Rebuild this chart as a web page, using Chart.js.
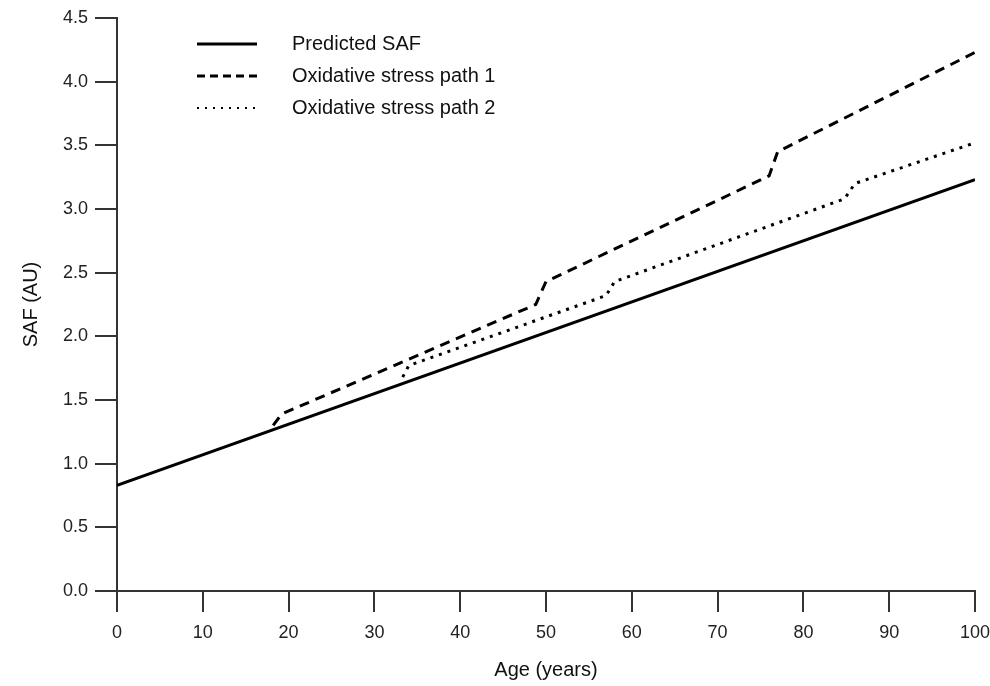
<!DOCTYPE html>
<html>
<head>
<meta charset="utf-8">
<script src="https://cdn.jsdelivr.net/npm/chart.js@4/dist/chart.umd.min.js"></script>
<style>
  html, body { margin: 0; padding: 0; background: #fff; }
  #wrap { width: 990px; height: 686px; }
</style>
</head>
<body>
<div id="wrap"><canvas id="lineChart"></canvas></div>
<script>
// values
const predictedAge = [0, 100];
const predictedSaf = [0.83, 3.23];

const path1Age = [18.2, 19.2, 48.8, 50.0, 76.0, 77.0, 100];
const path1Saf = [1.30, 1.39, 2.25, 2.43, 3.26, 3.45, 4.23];

const path2Age = [33.3, 34.0, 57.0, 58.0, 84.8, 86.0, 100];
const path2Saf = [1.68, 1.77, 2.32, 2.43, 3.08, 3.20, 3.52];

const seriesNames = ['Predicted SAF', 'Oxidative stress path 1', 'Oxidative stress path 2'];
const xTicks = [0, 10, 20, 30, 40, 50, 60, 70, 80, 90, 100];
const yTicks = [0, 0.5, 1, 1.5, 2, 2.5, 3, 3.5, 4, 4.5];

const toPoints = (xs, ys) => xs.map((x, i) => ({ x: x, y: ys[i] }));
const font = 'Liberation Sans, Arial, sans-serif';
const dashes = [[], [10, 7], [3, 6]];

// legend drawn by hand so it sits where the original one does
const legendPlugin = {
    id: 'legendLines',
    afterDraw(chart) {
        const c = chart.ctx;
        c.save();
        seriesNames.forEach((name, i) => {
            const y = 44 + i * 32;
            c.beginPath();
            c.setLineDash(i === 1 ? [8, 5] : (i === 2 ? [2, 6] : []));
            c.lineWidth = i === 2 ? 2 : 3;
            c.strokeStyle = '#000';
            c.moveTo(197, y);
            c.lineTo(257, y);
            c.stroke();
            c.setLineDash([]);
            c.fillStyle = '#111';
            c.font = '20px ' + font;
            c.textBaseline = 'middle';
            c.fillText(name, 292, y);
        });
        c.restore();
    }
};

const ctx = document.getElementById('lineChart');
new Chart(ctx, {
    type: 'line',
    data: {
        datasets: [
            { label: seriesNames[0], data: toPoints(predictedAge, predictedSaf) },
            { label: seriesNames[1], data: toPoints(path1Age, path1Saf) },
            { label: seriesNames[2], data: toPoints(path2Age, path2Saf) }
        ].map((d, i) => Object.assign(d, {
            borderColor: '#000',
            borderWidth: 3,
            borderDash: dashes[i],
            pointRadius: 0,
            fill: false,
            tension: 0
        }))
    },
    options: {
        responsive: true,
        maintainAspectRatio: false,
        animation: false,
        layout: { padding: { top: 18, right: 0, left: 15, bottom: 0 } },
        plugins: {
            legend: { display: false },
            tooltip: { enabled: false }
        },
        scales: {
            x: {
                type: 'linear',
                min: 0,
                max: 100,
                afterBuildTicks: (s) => { s.ticks = xTicks.map(v => ({ value: v })); },
                afterFit: (s) => { s.height = 95; s.paddingRight = 15; s.paddingLeft = 0; },
                grid: { drawOnChartArea: false, drawTicks: true, tickLength: 21, color: '#333', lineWidth: 2 },
                border: { display: true, color: '#333', width: 2 },
                ticks: { color: '#222', font: { family: font, size: 18 }, padding: 10, maxRotation: 0 },
                title: { display: true, text: 'Age (years)', color: '#111', font: { family: font, size: 20 }, padding: { top: 6 } }
            },
            y: {
                min: 0,
                max: 4.5,
                afterBuildTicks: (s) => { s.ticks = yTicks.map(v => ({ value: v })); },
                afterFit: (s) => { s.width = 102; },
                grid: { drawOnChartArea: false, drawTicks: true, tickLength: 22, color: '#333', lineWidth: 2 },
                border: { display: true, color: '#333', width: 2 },
                ticks: { color: '#222', font: { family: font, size: 18 }, padding: 7, callback: (v) => v.toFixed(1) },
                title: { display: true, text: 'SAF (AU)', color: '#111', font: { family: font, size: 20 }, padding: { bottom: 4 } }
            }
        }
    },
    plugins: [legendPlugin]
});
</script>
</body>
</html>
